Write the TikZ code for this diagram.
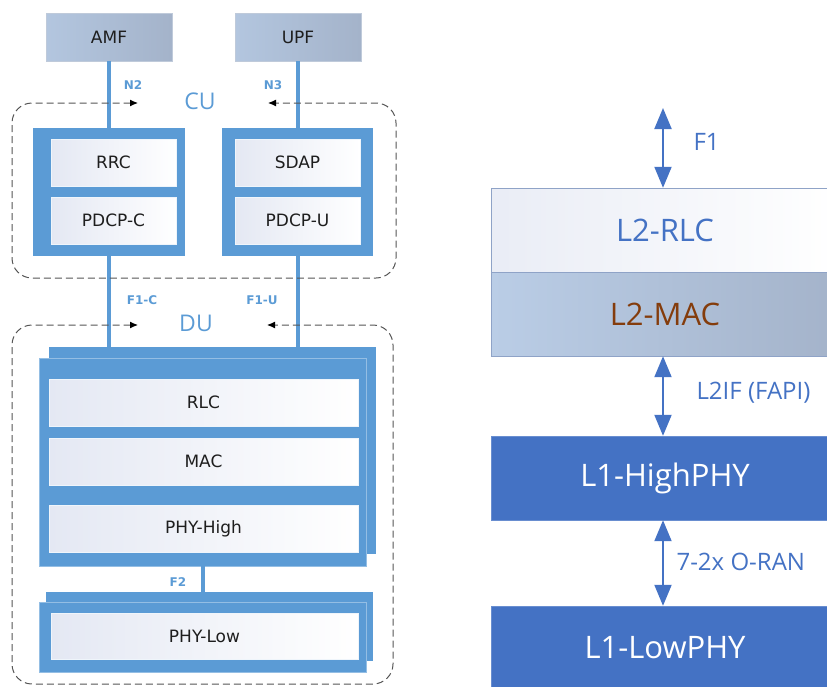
\documentclass[tikz,border=0pt]{standalone}
\usepackage{fontspec}
\setmainfont{DejaVu Sans}
\newfontfamily\uifont{Open Sans}
\usepackage{tikz}
\usetikzlibrary{arrows,arrows.meta}
\definecolor{blockblue}{HTML}{5B9BD5}
\definecolor{l1blue}{HTML}{4472C4}
\definecolor{coreL}{HTML}{B3C6DF}
\definecolor{coreR}{HTML}{A4B3CA}
\definecolor{macL}{HTML}{BACDE6}
\definecolor{paleblue}{HTML}{E4E8F3}
\definecolor{textdark}{HTML}{1E1E1E}
\definecolor{dashgray}{HTML}{555555}
\definecolor{rlcedge}{HTML}{8FA3C7}
\definecolor{macbrown}{HTML}{843C0C}

\begin{document}
\begin{tikzpicture}[x=1pt,y=-1pt,>={Latex[length=8pt,width=7pt,color=black]},node distance=58pt]
		\tikzstyle{core}=[rectangle,inner sep=0pt,minimum width=126pt,minimum height=48pt,left color=coreL,right color=coreR,draw=coreR!70!white,line width=0.6pt,text=textdark,font=\fontsize{17}{20}\selectfont]
		\tikzstyle{stack}=[rectangle,inner sep=0pt,fill=blockblue,draw=none]
		\tikzstyle{front}=[stack,draw=blockblue!65!white,line width=0.8pt]
		\tikzstyle{layer}=[rectangle,inner sep=0pt,minimum width=125pt,minimum height=47pt,left color=paleblue,right color=white,draw=white!90!blockblue,line width=0.6pt,text=textdark,font=\fontsize{17}{20}\selectfont]
		\tikzstyle{link}=[draw=blockblue,line width=4pt]
		\tikzstyle{iflabel}=[text=blockblue,font=\bfseries\fontsize{12}{14}\selectfont]
		\tikzstyle{area}=[draw=dashgray,dash pattern=on 7pt off 4pt,line width=1pt,rounded corners=20pt]
		\tikzstyle{arealabel}=[text=blockblue,font=\uifont\fontsize{23}{26}\selectfont]
		\tikzstyle{sw}=[rectangle,inner sep=0pt,minimum width=348pt,minimum height=84pt,font=\uifont\fontsize{31}{34}\selectfont]
		\tikzstyle{bigarrow}=[{Triangle[width=17pt,length=21pt]}-{Triangle[width=17pt,length=21pt]},draw=l1blue,fill=l1blue,line width=2pt]
		\tikzstyle{swlabel}=[anchor=west,text=l1blue,font=\uifont\fontsize{24}{28}\selectfont]
		
		\clip (0,0) rectangle (827,686);
		
		% core network
		\node[core] (amf) at (109,37)  {AMF};
		\node[core] (upf) at (298,37)  {UPF};
		
		% CU
		\node[stack,minimum width=152pt,minimum height=128pt] (cuc) at (109,192) {};
		\node[layer] (rrc)   at (113.5,162.5) {RRC};
		\node[layer] (pdcpc) [below of=rrc]  {PDCP-C};
		\node[stack,minimum width=151pt,minimum height=128pt] (cuu) at (297.5,192) {};
		\node[layer] (sdap)  at (297.5,162.5) {SDAP};
		\node[layer] (pdcpu) [below of=sdap] {PDCP-U};
		
		% DU
		\node[stack,minimum width=327pt,minimum height=207pt] (duback) at (212.5,450.5) {};
		\node[front,minimum width=327pt,minimum height=208pt] (du) at (202.5,462) {};
		\node[layer,minimum width=309pt] (rlc) at (203.5,402.5) {RLC};
		\node[layer,minimum width=309pt] (mac) [below of=rlc,node distance=59pt] {MAC};
		\node[layer,minimum width=309pt] (phyhigh) [below of=mac,node distance=67pt] {PHY-High};
		\node[stack,minimum width=327pt,minimum height=69pt] (lowback) at (209.5,626.5) {};
		\node[front,minimum width=327pt,minimum height=70pt] (low) at (202.5,637) {};
		\node[layer,minimum width=307pt,minimum height=46pt] (phylow) at (204.5,636) {PHY-Low};
		
		\draw[link] (amf.south) -- (amf.south |- cuc.north);
		\draw[link] (upf.south) -- (upf.south |- cuu.north);
		\draw[link] (cuc.south) -- (cuc.south |- duback.north);
		\draw[link] (cuu.south) -- (cuu.south |- duback.north);
		\draw[link] (du.south) -- (du.south |- lowback.north);
		
		\node[iflabel] (n2)  at (133,85)  {N2};
		\node[iflabel] (n3)  at (273,85)  {N3};
		\node[iflabel] (f1c) at (142,300) {F1-C};
		\node[iflabel] (f1u) at (262,300) {F1-U};
		\node[iflabel] (f2)  at (178,582) {F2};
		
		% split borders
		\draw[area,<->] (138,103) -- (12,103) -- (12,278) -- (396,278) -- (396,103) -- (268,103);
		\node[arealabel] (culabel) at (200,101) {CU};
		\draw[area,<->] (138,325) -- (12,325) -- (12,684) -- (393,684) -- (393,325) -- (267,325);
		\node[arealabel] (dulabel) at (196,323) {DU};
		
		% software stack
		\node[sw,left color=paleblue!80!white,right color=white,draw=rlcedge,text=l1blue] (l2rlc) at (665,230) {L2-RLC};
		\node[sw,left color=macL,right color=coreR,draw=rlcedge,text=macbrown] (l2mac) [below of=l2rlc,node distance=84pt] {L2-MAC};
		\node[sw,fill=l1blue,draw=l1blue!80!white,text=white] (l1high) at (665,478) {L1-HighPHY};
		\node[sw,fill=l1blue,draw=l1blue!80!white,text=white] (l1low) [below of=l1high,node distance=170pt] {L1-LowPHY};
		
		\coordinate (f1top) at (663,108);
		\draw[bigarrow] (f1top) -- (f1top |- l2rlc.north);
		\draw[bigarrow] (l2mac.south -| f1top) -- (l1high.north -| f1top);
		\draw[bigarrow] (l1high.south -| f1top) -- (l1low.north -| f1top);
		
		\node[swlabel] (f1)   at (690,142) {F1};
		\node[swlabel] (fapi) at (693,393) {L2IF (FAPI)};
		\node[swlabel] (oran) at (673,562) {7-2x O-RAN};
		\end{tikzpicture}
\end{document}
